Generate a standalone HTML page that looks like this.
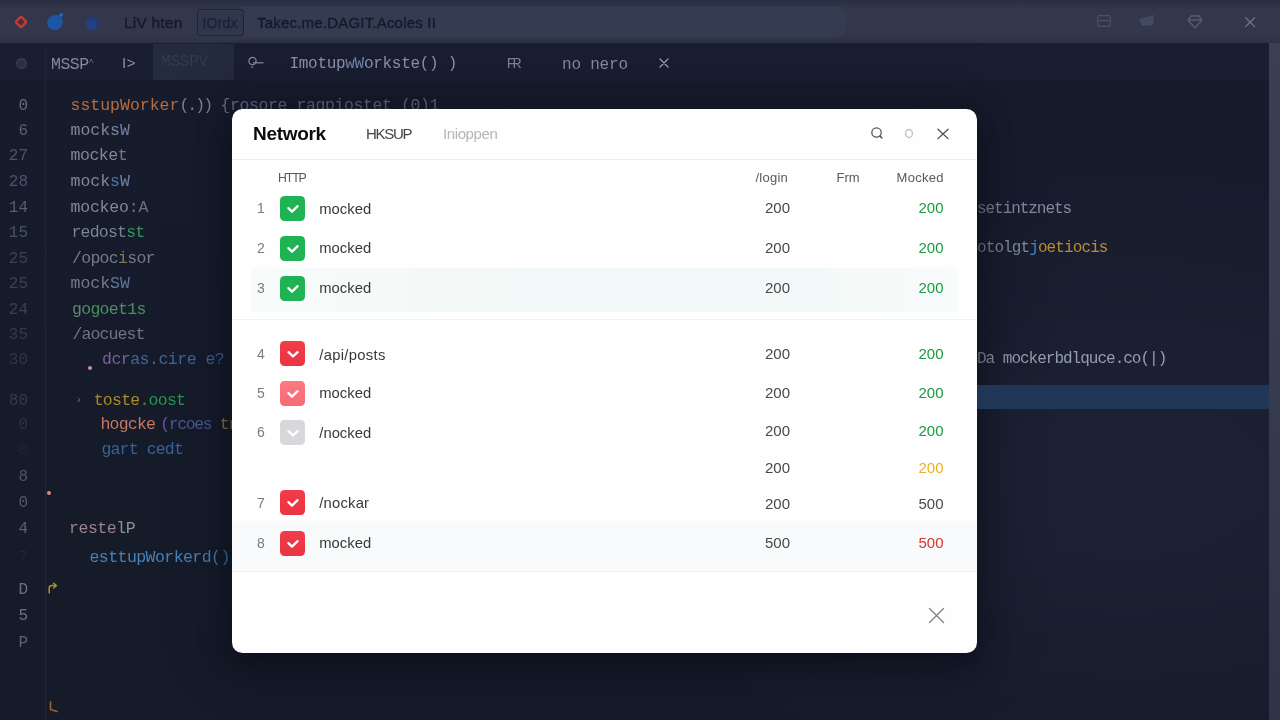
<!DOCTYPE html>
<html lang="en">
<head>
<meta charset="utf-8">
<title>Network</title>
<style>
*{box-sizing:border-box;margin:0;padding:0}
html,body{width:1280px;height:720px;overflow:hidden;background:#161b2b}
body{position:relative;font-family:"Liberation Sans",sans-serif}
.abs{position:absolute}
svg{display:block}
.code,.ln,.tab,.tb{filter:blur(0.45px)}
#topbar{left:0;top:0;width:1280px;height:43px;background:linear-gradient(#2a2e41,#32374c 22%,#32374c 85%,#2c3145)}
#search{left:236px;top:6px;width:610px;height:31px;border-radius:9px;background:#353c52}
#tabbar{left:0;top:43px;width:1280px;height:37px;background:#1a1e31}
#editor{left:0;top:80px;width:1280px;height:640px;background:radial-gradient(ellipse 45% 50% at 88% 62%,rgba(34,40,62,0.55),rgba(34,40,62,0) 100%),linear-gradient(#171c2d,#161b2b 40%,#161b2a)}
#gutterline{left:45px;top:43px;width:1px;height:677px;background:#1f2538}
#scroll{left:1269px;top:43px;width:11px;height:677px;background:linear-gradient(#3a3f53,#363b4f 50%,#2f3447)}
#hl{left:977px;top:385px;width:292px;height:24px;background:#1f3656}
.code{font-family:"Liberation Mono",monospace;font-size:16.5px;line-height:20px;white-space:pre;color:#7f889a}
.ln{font-family:"Liberation Mono",monospace;font-size:16px;line-height:20px;color:#596176;text-align:right;width:28px;left:0}
.tb{font-family:"Liberation Sans",sans-serif;font-size:15.5px;line-height:20px;color:#141a2a;white-space:pre;-webkit-text-stroke:0.35px #141a2a}
.tab{font-family:"Liberation Mono",monospace;font-size:16px;line-height:20px;color:#8d95a7;white-space:pre}
#modal{left:232px;top:109px;width:745px;height:544px;background:#fefefe;border-radius:10.5px;overflow:hidden;box-shadow:0 10px 28px 2px rgba(9,12,22,0.6),0 0 60px 10px rgba(14,18,30,0.3)}
#modal .t{position:absolute;white-space:pre;line-height:20px}
.hd{font-size:13px;color:#595959;letter-spacing:0.2px}
.num{font-size:14px;color:#7c7c7c;width:20px;text-align:center;left:19px}
.lbl{font-size:14.8px;color:#383838;left:87.3px}
.v1{font-size:15px;color:#484848;left:508px;width:50px;text-align:right}
.v2{font-size:15px;left:661.5px;width:50px;text-align:right}
.cb{position:absolute;left:48px;width:25px;height:25px;border-radius:4.5px}
.cb svg{position:absolute;left:0;top:0}
.g{background:#20b354}.r{background:linear-gradient(#f23c4a,#ea3442)}.p{background:linear-gradient(#fa7a82,#f66b75)}.y{background:#d6d8db}
.green{color:#1a9b41}.yellow{color:#efb11f}.red{color:#d63333}.dark{color:#4a4a4a}
</style>
</head>
<body>
<div id="topbar" class="abs"></div>
<div id="search" class="abs"></div>
<div id="tabbar" class="abs"></div>
<div id="editor" class="abs"></div>
<div id="gutterline" class="abs"></div>
<div id="scroll" class="abs"></div>
<div class="abs ln" style="top:95.8px;color:#626b80">0</div>
<div class="abs code" style="left:70.5px;top:95.8px"><span style="color:#b96c3b">sstupWorker</span><span style="color:#7a8395;letter-spacing:-2px">(.))</span><span style="color:#687184;letter-spacing:-0.4px"> {rosore ragpiostet (0)1</span></div>
<div class="abs ln" style="top:121.0px;color:#596176">6</div>
<div class="abs code" style="left:70.5px;top:121.0px"><span>mocks</span><span style="color:#6f80a3">W</span></div>
<div class="abs ln" style="top:146.4px;color:#4b5368">27</div>
<div class="abs code" style="left:70.5px;top:146.4px;letter-spacing:-0.45px">mocke<span style="color:#6f7a92">t</span></div>
<div class="abs ln" style="top:171.6px;color:#4b5368">28</div>
<div class="abs code" style="left:70.5px;top:171.6px"><span>mock</span><span style="color:#4f74a6">s</span><span style="color:#6f80a3">W</span></div>
<div class="abs ln" style="top:197.5px;color:#555d72">14</div>
<div class="abs code" style="left:70.5px;top:197.5px;letter-spacing:-0.2px">mockeo<span style="color:#687082">:A</span></div>
<div class="abs ln" style="top:222.5px;color:#495166">15</div>
<div class="abs code" style="left:71.5px;top:222.5px;letter-spacing:-0.8px"><span style="color:#7b8496">redost</span><span style="color:#37935c">st</span></div>
<div class="abs ln" style="top:248.5px;color:#3a4256">25</div>
<div class="abs code" style="left:72px;top:248.5px;letter-spacing:-0.7px"><span style="color:#727b8d">/opoc<span style="color:#85784f">i</span>sor</span></div>
<div class="abs ln" style="top:273.5px;color:#3a4256">25</div>
<div class="abs code" style="left:70.5px;top:273.5px"><span style="color:#727b8d">mock</span><span style="color:#5f759b">SW</span></div>
<div class="abs ln" style="top:299.5px;color:#394055">24</div>
<div class="abs code" style="left:72px;top:299.5px;letter-spacing:-0.7px"><span style="color:#5d8a74">g</span><span style="color:#47905f">ogoet1s</span></div>
<div class="abs ln" style="top:325.0px;color:#333a4e">35</div>
<div class="abs code" style="left:72.5px;top:325.0px;letter-spacing:-0.9px"><span style="color:#6b7486">/aocuest</span></div>
<div class="abs ln" style="top:349.5px;color:#2f364a">30</div>
<div class="abs code" style="left:102px;top:349.5px;letter-spacing:-0.5px"><span style="color:#77619a">dcr</span><span style="color:#40659a">as.cire e?</span></div>
<div class="abs ln" style="top:390.8px;color:#333a4e">80</div>
<div class="abs code" style="left:93.7px;top:390.8px;letter-spacing:-0.75px"><span style="color:#ac872a">toste</span><span style="color:#55845c">.</span><span style="color:#2b964e">oost</span></div>
<div class="abs ln" style="top:415.3px;color:#2a3146">0</div>
<div class="abs code" style="left:100.5px;top:415.3px;letter-spacing:-0.8px"><span style="color:#c67760">hogcke</span><span style="letter-spacing:-1.4px;margin-left:5px"><span style="color:#6a54a5">(</span><span style="color:#4a5a8e">rcoes</span> <span style="color:#ab7a30">tr</span></span></div>
<div class="abs ln" style="top:440.0px;color:#1f2539">0</div>
<div class="abs code" style="left:101.5px;top:440.0px;letter-spacing:-0.85px"><span style="color:#30659f">gart cedt</span></div>
<div class="abs ln" style="top:466.5px;color:#4b5368">8</div>
<div class="abs ln" style="top:492.5px;color:#4f576c">0</div>
<div class="abs ln" style="top:519.3px;color:#596176">4</div>
<div class="abs code" style="left:69px;top:519.3px;letter-spacing:-0.45px"><span style="color:#9c8090">reste</span><span style="color:#8e939c">lP</span></div>
<div class="abs ln" style="top:548.0px;color:#1f2539">7</div>
<div class="abs code" style="left:89.5px;top:548.0px;letter-spacing:-0.55px"><span style="color:#4282bd">esttupWorkerd()</span></div>
<div class="abs ln" style="top:579.5px;color:#697185">D</div>
<div class="abs ln" style="top:606.0px;color:#697185">5</div>
<div class="abs ln" style="top:632.5px;color:#596176">P</div>
<div class="abs code" style="left:75.5px;top:390px;color:#676e80;font-size:11px">›</div>
<div class="abs code" style="left:977px;top:198.5px;color:#828b9d;font-size:16px;letter-spacing:-1.05px">setintznets</div>
<div class="abs code" style="left:977px;top:237.5px;font-size:16px;letter-spacing:-0.9px"><span style="color:#828b9d">otolgt</span><span style="color:#4587c2">j</span><span style="color:#bd8a30">oetiocis</span></div>
<div class="abs code" style="left:977px;top:349px;font-size:16px;letter-spacing:-1px;color:#969eae">Da mockerbdlquce.co(|)</div>
<div class="abs" style="left:14px;top:15px;width:14px;height:14px"><svg width="14" height="14" viewBox="0 0 14 14"><rect x="3.2" y="3.2" width="7.6" height="7.6" rx="1.6" transform="rotate(45 7 7)" fill="#4a2c3a" stroke="#bf3a34" stroke-width="2.6"/></svg></div>
<div class="abs" style="left:47px;top:14.5px;width:16px;height:15px;border-radius:50%;background:#1d56a4;transform:rotate(-25deg)"></div>
<div class="abs" style="left:59px;top:12.5px;width:4px;height:4px;border-radius:50%;background:#2566b4"></div>
<div class="abs" style="left:86px;top:15.5px;width:14px;height:14px;border-radius:50%;background:#20418a;box-shadow:inset -2px 2px 0 1px #293868"></div>
<div class="abs tb" style="left:124px;top:12.8px;letter-spacing:0.2px">LiV hten</div>
<div class="abs" style="left:197px;top:8.5px;width:46.5px;height:27px;border:1px solid #1f2538;border-radius:3px;background:#30364b"></div>
<div class="abs tb" style="left:202.5px;top:12.5px;font-size:14px;color:#1c2235;-webkit-text-stroke:0.3px #1c2235;letter-spacing:0.2px">IOrdx</div>
<div class="abs tb" style="left:257px;top:12.8px;font-size:15px;letter-spacing:0.2px">Takec.me.DAGIT.Acoles II</div>
<div class="abs" style="left:1097px;top:15px;width:14px;height:12px"><svg width="14" height="12" viewBox="0 0 14 12"><rect x="0.7" y="0.7" width="12.6" height="10.6" rx="1" fill="none" stroke="#4b5267" stroke-width="1.2"/><path d="M1 5.6 H13" stroke="#4b5267" stroke-width="1.2"/></svg></div>
<div class="abs" style="left:1138px;top:14px;width:18px;height:13px"><svg width="18" height="13" viewBox="0 0 18 13"><path d="M1 5 L16 1 L15 11 L4 12 Z" fill="#444b60"/></svg></div>
<div class="abs" style="left:1187px;top:15px;width:16px;height:14px"><svg width="16" height="14" viewBox="0 0 16 14"><path d="M4 1 H12 L15 5 L8 13 L1 5 Z M1 5 H15" fill="none" stroke="#555c70" stroke-width="1.3" stroke-linejoin="round"/></svg></div>
<div class="abs" style="left:1244px;top:16px;width:12px;height:12px"><svg width="12" height="12" viewBox="0 0 12 12"><path d="M1.6 1.6 L10.6 10.6 M10.6 1.6 L1.6 10.6" stroke="#737a8d" stroke-width="1.25" stroke-linecap="round"/></svg></div>
<div class="abs" style="left:16px;top:58px;width:11px;height:11px;border-radius:50%;background:#2a3044;border:2px solid #343a4e"></div>
<div class="abs tab" style="left:51px;top:52.9px;letter-spacing:-0.5px;font-size:16.5px;color:#828a9c">MSSP<span style="font-size:9px;vertical-align:4px;color:#6d7488">^</span></div>
<div class="abs tab" style="left:122px;top:52.5px;font-family:&quot;Liberation Sans&quot;,sans-serif;font-size:15px;letter-spacing:0.5px;color:#8a91a3">I&gt;</div>
<div class="abs" style="left:153px;top:44px;width:80.5px;height:35.5px;background:#252b3e"></div>
<div class="abs tab" style="left:161px;top:52px;color:#333a4e;font-size:16px;letter-spacing:-0.2px">MSSPV</div>
<div class="abs" style="left:247px;top:55px;width:18px;height:16px"><svg width="18" height="16" viewBox="0 0 18 16"><circle cx="5.5" cy="6" r="3.6" fill="none" stroke="#7f8799" stroke-width="1.3"/><path d="M6 7.8 H16.5" stroke="#7f8799" stroke-width="1.3"/><circle cx="5.2" cy="12" r="1" fill="#6d7488"/></svg></div>
<div class="abs tab" style="left:289.5px;top:53.5px;font-size:16px;letter-spacing:-0.3px;color:#8c94a6">Imotup<span style="color:#6f86b0">wW</span>orkste() )</div>
<div class="abs tab" style="left:506.5px;top:54.5px;font-size:15px;letter-spacing:-3px;color:#7a8294">FR</div>
<div class="abs tab" style="left:562px;top:54.6px;letter-spacing:-0.2px;font-size:16px;color:#858d9f">no nero</div>
<div class="abs" style="left:659px;top:58px;width:10px;height:10px"><svg width="10" height="10" viewBox="0 0 10 10"><path d="M1 1 L9 9 M9 1 L1 9" stroke="#9aa2b3" stroke-width="1.2" stroke-linecap="round"/></svg></div>
<div class="abs" style="left:88px;top:366px;width:4px;height:4px;border-radius:50%;background:#d98a9a"></div>
<div class="abs" style="left:47px;top:491px;width:4px;height:4px;border-radius:50%;background:#d98a80"></div>
<div class="abs" style="left:47px;top:582px;width:12px;height:12px"><svg width="12" height="12" viewBox="0 0 12 12"><path d="M2.2 11 V6 Q2.2 3.6 5 3.6 H9 M6.6 1.2 L9.3 3.6 L6.6 6" fill="none" stroke="#b39120" stroke-width="1.5" stroke-linecap="round" stroke-linejoin="round"/></svg></div>
<div class="abs" style="left:49px;top:701px;width:10px;height:12px"><svg width="10" height="12" viewBox="0 0 10 12"><path d="M1.5 1 V8.5 L8 10.5" fill="none" stroke="#a5602c" stroke-width="1.6" stroke-linecap="round"/></svg></div>
<div id="modal" class="abs">
  <div class="t" style="left:21px;top:15px;font-size:19px;font-weight:bold;color:#0a0a0a;letter-spacing:-0.3px">Network</div>
  <div class="t" style="left:134px;top:15px;font-size:15px;color:#444;letter-spacing:-1.3px">HKSUP</div>
  <div class="t" style="left:211px;top:15px;font-size:15px;color:#b5b5b5;letter-spacing:-0.4px">Inioppen</div>
  <div class="abs" style="left:0;top:50px;width:745px;height:1px;background:#eeeeee"></div>
  <div class="t hd" style="left:46px;top:58.7px;font-size:12.3px;letter-spacing:-1.1px">HTTP</div>
  <div class="t hd" style="left:523.5px;top:58.8px;letter-spacing:0.25px">/login</div>
  <div class="t hd" style="left:604.5px;top:58.8px;letter-spacing:0">Frm</div>
  <div class="t hd" style="left:664.5px;top:58.8px;letter-spacing:0.3px">Mocked</div>
  <div class="abs" style="left:19px;top:158.8px;width:707px;height:44.5px;background:linear-gradient(90deg,#f8fbfb,#f4f9f8 25%,#f3f9f8 80%,#f8fbfb)"></div>
  <div class="abs" style="left:0;top:210px;width:745px;height:1px;background:#f1f1f1"></div>
  <div class="abs" style="left:0;top:412px;width:745px;height:50.5px;background:#f9fafb;border-bottom:1px solid #f0f0f0"></div>
  <div class="abs" style="left:638px;top:17px;width:15px;height:15px"><svg width="15" height="15" viewBox="0 0 15 15"><circle cx="6.5" cy="6.5" r="4.7" fill="none" stroke="#555" stroke-width="1.25"/><path d="M9.9 10 L11.9 12.1" stroke="#4a4a4a" stroke-width="1.4" stroke-linecap="round"/></svg></div>
  <div class="abs" style="left:672px;top:18.7px;width:10px;height:11px"><svg width="10" height="11" viewBox="0 0 10 11"><ellipse cx="5" cy="5.5" rx="3.4" ry="4" fill="none" stroke="#c2c2c2" stroke-width="1.3"/></svg></div>
  <div class="abs" style="left:704px;top:17.5px;width:14px;height:14px"><svg width="14" height="14" viewBox="0 0 14 14"><path d="M1.9 2.2 L12.1 11.6 M12.1 2.2 L1.9 11.6" stroke="#4a4a4a" stroke-width="1.25" stroke-linecap="round"/></svg></div>
  <div class="abs" style="left:696px;top:498px;width:17px;height:17px"><svg width="17" height="17" viewBox="0 0 17 17"><path d="M1.5 1.5 L15.5 15.5 M15.5 1.5 L1.5 15.5" stroke="#8c8c8c" stroke-width="1.5" stroke-linecap="round"/></svg></div>
  <div class="t num" style="top:89.1px">1</div>
  <div class="cb g" style="top:86.8px"><svg width="25" height="25" viewBox="0 0 25 25"><path d="M8.4 12.1 L12 15.6 L17.6 10.2" fill="none" stroke="#fff" stroke-width="2.3" stroke-linecap="round" stroke-linejoin="round"/></svg></div>
  <div class="t lbl" style="top:89.7px">mocked</div>
  <div class="t v1" style="top:89.3px">200</div>
  <div class="t v2 green" style="top:89.3px">200</div>
  <div class="t num" style="top:128.7px">2</div>
  <div class="cb g" style="top:126.5px"><svg width="25" height="25" viewBox="0 0 25 25"><path d="M8.4 12.1 L12 15.6 L17.6 10.2" fill="none" stroke="#fff" stroke-width="2.3" stroke-linecap="round" stroke-linejoin="round"/></svg></div>
  <div class="t lbl" style="top:129.3px">mocked</div>
  <div class="t v1" style="top:129.2px">200</div>
  <div class="t v2 green" style="top:129.2px">200</div>
  <div class="t num" style="top:168.8px">3</div>
  <div class="cb g" style="top:166.8px"><svg width="25" height="25" viewBox="0 0 25 25"><path d="M8.4 12.1 L12 15.6 L17.6 10.2" fill="none" stroke="#fff" stroke-width="2.3" stroke-linecap="round" stroke-linejoin="round"/></svg></div>
  <div class="t lbl" style="top:169.4px">mocked</div>
  <div class="t v1" style="top:169.3px">200</div>
  <div class="t v2 green" style="top:169.3px">200</div>
  <div class="t num" style="top:235.2px">4</div>
  <div class="cb r" style="top:232.4px"><svg width="25" height="25" viewBox="0 0 25 25"><path d="M8.5 11.2 L13 15.3 L17.6 11.2" fill="none" stroke="#fff" stroke-width="2.3" stroke-linecap="round" stroke-linejoin="round"/></svg></div>
  <div class="t lbl" style="top:235.8px;letter-spacing:0.3px">/api/posts</div>
  <div class="t v1" style="top:235.3px">200</div>
  <div class="t v2 green" style="top:235.3px">200</div>
  <div class="t num" style="top:273.6px">5</div>
  <div class="cb p" style="top:271.9px"><svg width="25" height="25" viewBox="0 0 25 25"><path d="M8.4 12.1 L12 15.6 L17.6 10.2" fill="none" stroke="#fff" stroke-width="2.3" stroke-linecap="round" stroke-linejoin="round"/></svg></div>
  <div class="t lbl" style="top:274.2px">mocked</div>
  <div class="t v1" style="top:273.9px">200</div>
  <div class="t v2 green" style="top:273.9px">200</div>
  <div class="t num" style="top:313.3px">6</div>
  <div class="cb y" style="top:310.7px"><svg width="25" height="25" viewBox="0 0 25 25"><path d="M8.5 11.2 L13 15.3 L17.6 11.2" fill="none" stroke="#fff" stroke-width="2.3" stroke-linecap="round" stroke-linejoin="round"/></svg></div>
  <div class="t lbl" style="top:313.9px">/nocked</div>
  <div class="t v1" style="top:312.3px">200</div>
  <div class="t v2 green" style="top:312.3px">200</div>
  <div class="t v1" style="top:349.3px">200</div>
  <div class="t v2 yellow" style="top:349.3px">200</div>
  <div class="t num" style="top:383.7px">7</div>
  <div class="cb r" style="top:380.8px"><svg width="25" height="25" viewBox="0 0 25 25"><path d="M8.4 12.1 L12 15.6 L17.6 10.2" fill="none" stroke="#fff" stroke-width="2.3" stroke-linecap="round" stroke-linejoin="round"/></svg></div>
  <div class="t lbl" style="top:384.3px;letter-spacing:0.2px">/nockar</div>
  <div class="t v1" style="top:384.5px">200</div>
  <div class="t v2 dark" style="top:384.5px">500</div>
  <div class="t num" style="top:423.8px">8</div>
  <div class="cb r" style="top:421.6px"><svg width="25" height="25" viewBox="0 0 25 25"><path d="M8.4 12.1 L12 15.6 L17.6 10.2" fill="none" stroke="#fff" stroke-width="2.3" stroke-linecap="round" stroke-linejoin="round"/></svg></div>
  <div class="t lbl" style="top:424.4px">mocked</div>
  <div class="t v1" style="top:424.0px">500</div>
  <div class="t v2 red" style="top:424.0px">500</div>
</div>
<div id="hl" class="abs"></div>
</body>
</html>
